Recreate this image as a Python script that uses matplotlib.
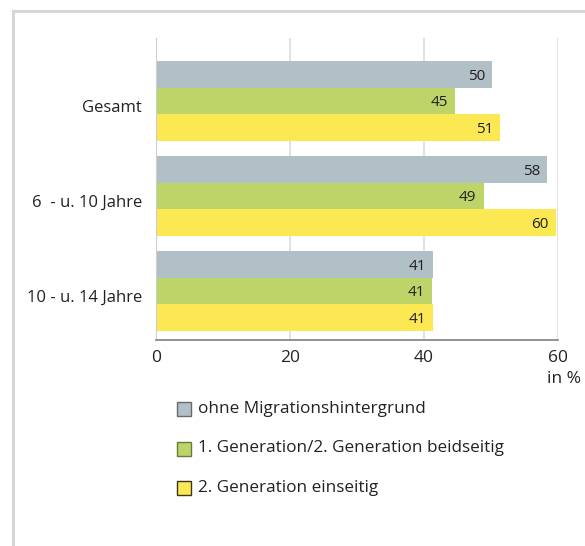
import numpy as np
import matplotlib.pyplot as plt
import matplotlib.transforms as mtransforms
from matplotlib.patches import Rectangle
from matplotlib.lines import Line2D

plt.rcParams['font.family'] = ['Open Sans', 'DejaVu Sans']

# data
categories = ["Gesamt", "6  - u. 10 Jahre", "10 - u. 14 Jahre"]
series = ["ohne Migrationshintergrund",
          "1. Generation/2. Generation beidseitig",
          "2. Generation einseitig"]
ohne_migration = [50.2, 58.4, 41.4]
gen1_beidseitig = [44.7, 48.9, 41.2]
gen2_einseitig = [51.4, 59.7, 41.3]
values = [ohne_migration, gen1_beidseitig, gen2_einseitig]
labels = [[50, 58, 41], [45, 49, 41], [51, 60, 41]]
colors = ["#b1bfc6", "#bdd468", "#fbe852"]
edge_colors = ["#666a6c", "#6b7a3a", "#3a3520"]
xticks = [0, 20, 40, 60]

W, H = 585, 546
fig = plt.figure(figsize=(W / 100, H / 100), dpi=100)
ax = fig.add_axes([156 / W, 1 - 340 / H, (558 - 156) / W, (340 - 38) / H])

h = 0.28
y = np.arange(len(categories))
for i, (vals, lab) in enumerate(zip(values, labels)):
    pos = y - h + i * h
    ax.barh(pos, vals, height=h, color=colors[i], zorder=2)
    for p, v, l in zip(pos, vals, lab):
        ax.text(v - 1.05, p + 0.02, str(l), ha='right', va='center',
                fontsize=11, color='#222222', zorder=3)

ax.set_xlim(0, 60)
ax.set_ylim(2.516, -0.663)
ax.set_xticks(xticks)
ax.set_xticklabels([str(t) for t in xticks], fontsize=12.5, color='#222222')
ax.tick_params(axis='x', length=0, pad=7)
ax.set_yticks(y)
ax.set_yticklabels(categories, fontsize=12, color='#222222')
ax.tick_params(axis='y', length=0, pad=10)
# category labels sit a little below the group centre
shift = mtransforms.ScaledTranslation(0, -5 / 100, fig.dpi_scale_trans)
for lbl in ax.get_yticklabels():
    lbl.set_transform(lbl.get_transform() + shift)
ax.grid(axis='x', color='#dcdcdc', linewidth=1.2, zorder=0)
for s in ['top', 'right']:
    ax.spines[s].set_visible(False)
ax.spines['left'].set_color('#cfcfcf')
ax.spines['bottom'].set_color('#808080')
ax.spines['bottom'].set_linewidth(1.2)

fig.text(547 / W, 1 - 379 / H, "in %", ha='left', va='center',
         fontsize=12.5, color='#222222')

# legend
for i, name in enumerate(series):
    yc = 409 + i * 39.5
    fig.add_artist(Rectangle((177 / W, 1 - (yc + 7) / H), 14 / W, 14 / H,
                             facecolor=colors[i], edgecolor=edge_colors[i],
                             linewidth=1.0, transform=fig.transFigure))
    fig.text(198 / W, 1 - yc / H, name, ha='left', va='center',
             fontsize=12.3, color='#222222')

# light frame at left and top
fig.add_artist(Line2D([13 / W, 13 / W], [0, 1 - 11 / H], color='#d6d6d6',
                      linewidth=2.2, transform=fig.transFigure))
fig.add_artist(Line2D([13 / W, 1], [1 - 11 / H, 1 - 11 / H], color='#d6d6d6',
                      linewidth=2.2, transform=fig.transFigure))

fig.savefig("out.png", dpi=100)
